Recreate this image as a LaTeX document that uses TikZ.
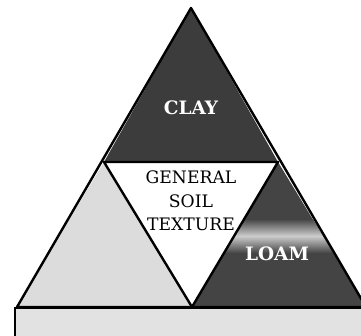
\documentclass[tikz,border=0pt]{standalone}
\usepackage{xcolor}
\usepackage{fontspec}
\setmainfont{DejaVu Serif}
\usetikzlibrary{calc}
\definecolor{Clay}{HTML}{3C3C3C}
\definecolor{Loam}{HTML}{444444}
\definecolor{Sand}{HTML}{DCDCDC}
\definecolor{Silt}{HTML}{E2E2E2}

\begin{document}
\begin{tikzpicture}[x=1pt,y=1pt,
    part/.style={draw=black,line width=2.4pt,line join=round},
    lbl/.style={text=white,font=\fontsize{18.5}{22}\selectfont\bfseries},
    mid/.style={align=center,font=\fontsize{17.2}{23.5}\selectfont}]
    \useasboundingbox (0,0) rectangle (361,335);
    \clip (0,0) rectangle (361,335);
    % corner points
    \coordinate (apex) at (191,327);
    \coordinate (ml) at (104,173);
    \coordinate (mr) at (278,173);
    \coordinate (bl) at (17,28);
    \coordinate (bm) at (192,28);
    \coordinate (br) at (366,28);
    % bottom band
    \fill[Silt] (15,-5) rectangle (370,27);
    \draw[line width=2.4pt] (15,-5) -- (15,27) -- (370,27);
    % triangles
    \fill[Clay] (apex) -- (ml) -- (mr) -- cycle;
    \fill[Sand] (ml) -- (bl) -- (bm) -- cycle;
    \fill[Loam] (mr) -- (bm) -- (br) -- cycle;
    \begin{scope}
      \clip (mr) -- (bm) -- (br) -- cycle;
      \shade[top color=Loam,bottom color=Loam,middle color=gray!40] (225,82) rectangle (340,116);
    \end{scope}
    \draw[part] (apex) -- (bl) -- (br) -- cycle;
    \draw[part] (ml) -- (mr) -- (bm) -- cycle;
    % labels
    \node[lbl] (clay) at (191,227) {CLAY};
    \node[lbl] (loam) at (277,81) {LOAM};
    \node[mid] (core) at (191,134) {GENERAL\\SOIL\\TEXTURE};
\end{tikzpicture}
\end{document}
